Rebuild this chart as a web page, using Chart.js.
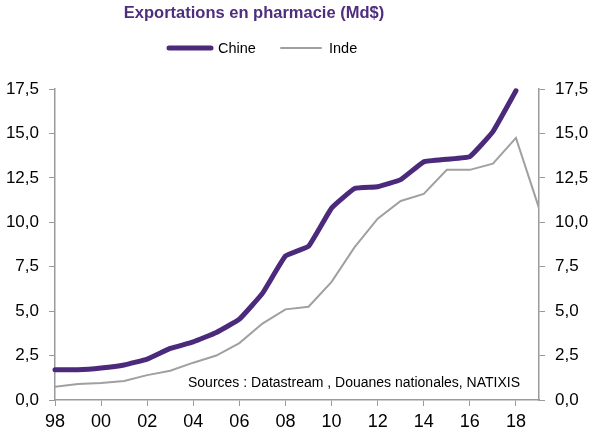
<!DOCTYPE html>
<html>
<head>
<meta charset="utf-8">
<script src="https://cdn.jsdelivr.net/npm/chart.js@4"></script>
<style>
  html, body { margin: 0; padding: 0; background: #fff; }
  #wrap { width: 600px; height: 442px; }
</style>
</head>
<body>
<div id="wrap"><canvas id="c" width="600" height="442"></canvas></div>
<script>
const years = [1998, 1999, 2000, 2001, 2002, 2003, 2004, 2005, 2006, 2007, 2008,
  2009, 2010, 2011, 2012, 2013, 2014, 2015, 2016, 2017, 2018, 2019];
const chine = [1.7, 1.7, 1.8, 1.97, 2.3, 2.9, 3.27, 3.8, 4.55, 6.0, 8.1,
  8.65, 10.8, 11.9, 12.0, 12.4, 13.4, 13.55, 13.7, 15.1, 17.4, null];
const inde = [0.75, 0.9, 0.95, 1.07, 1.4, 1.65, 2.1, 2.5, 3.2, 4.3, 5.1,
  5.25, 6.65, 8.6, 10.2, 11.2, 11.6, 12.95, 12.95, 13.3, 14.75, 10.8];
const yTicks = [0, 2.5, 5, 7.5, 10, 12.5, 15, 17.5];

const purple = '#4b2a7b';
const grey = '#a0a0a0';
const axisGrey = '#9a9a9a';
const font = 'Liberation Sans, Arial, sans-serif';

const points = arr => years.map((y, i) => ({ x: y, y: arr[i] }));
const fmt = v => v.toFixed(1).replace('.', ',');

// title, legend and source note drawn at fixed spots
const decor = {
  id: 'decor',
  afterDraw(chart) {
    const ctx = chart.ctx;
    ctx.save();
    ctx.fillStyle = '#4f2d7f';
    ctx.font = 'bold 16.5px ' + font;
    ctx.textAlign = 'center';
    ctx.textBaseline = 'middle';
    ctx.fillText('Exportations en pharmacie (Md$)', 254, 13);

    const items = [[169, 211, 218], [281, 321, 329]];
    ctx.font = '14.5px ' + font;
    ctx.textAlign = 'left';
    chart.data.datasets.forEach((ds, i) => {
      const [x0, x1, tx] = items[i];
      ctx.strokeStyle = ds.borderColor;
      ctx.lineWidth = ds.borderWidth;
      ctx.lineCap = 'round';
      ctx.beginPath();
      ctx.moveTo(x0, 48);
      ctx.lineTo(x1, 48);
      ctx.stroke();
      ctx.fillStyle = '#000';
      ctx.fillText(ds.label, tx, 49);
    });

    ctx.font = '14px ' + font;
    ctx.fillText('Sources : Datastream , Douanes nationales, NATIXIS', 188, 383);
    ctx.restore();
  }
};

const yAxis = (pos, w) => ({
  position: pos,
  min: 0,
  max: 17.5,
  afterFit: s => { s.width = w; },
  afterBuildTicks: s => { s.ticks = yTicks.map(v => ({ value: v })); },
  grid: { drawOnChartArea: false, color: axisGrey, tickLength: 6 },
  border: { color: axisGrey, width: 1.5 },
  ticks: {
    color: '#000',
    padding: 10,
    font: { family: font, size: 17 },
    callback: v => fmt(v)
  }
});

new Chart(document.getElementById('c'), {
  type: 'line',
  data: {
    datasets: [
      { label: 'Chine', data: points(chine), borderColor: purple, borderWidth: 5,
        borderCapStyle: 'round', borderJoinStyle: 'round', tension: 0.1,
        clip: false, yAxisID: 'y' },
      { label: 'Inde', data: points(inde), borderColor: grey, borderWidth: 2,
        tension: 0, yAxisID: 'y' }
    ]
  },
  options: {
    responsive: false,
    animation: false,
    events: [],
    elements: { point: { radius: 0 } },
    layout: { padding: { top: 89, left: 0, right: 0, bottom: 0 } },
    plugins: {
      legend: { display: false },
      title: { display: false },
      tooltip: { enabled: false }
    },
    scales: {
      x: {
        type: 'linear',
        min: 1998,
        max: 2019,
        afterFit: s => { s.height = 42; },
        afterBuildTicks: s => {
          s.ticks = years.filter(y => y % 2 === 0).map(v => ({ value: v }));
        },
        grid: { drawOnChartArea: false, color: axisGrey, tickLength: 6 },
        border: { color: axisGrey, width: 1.5 },
        ticks: {
          color: '#000',
          padding: 5,
          maxRotation: 0,
          font: { family: font, size: 18 },
          callback: v => String(v).slice(2)
        }
      },
      y: yAxis('left', 55),
      y2: yAxis('right', 61)
    }
  },
  plugins: [decor]
});
</script>
</body>
</html>
